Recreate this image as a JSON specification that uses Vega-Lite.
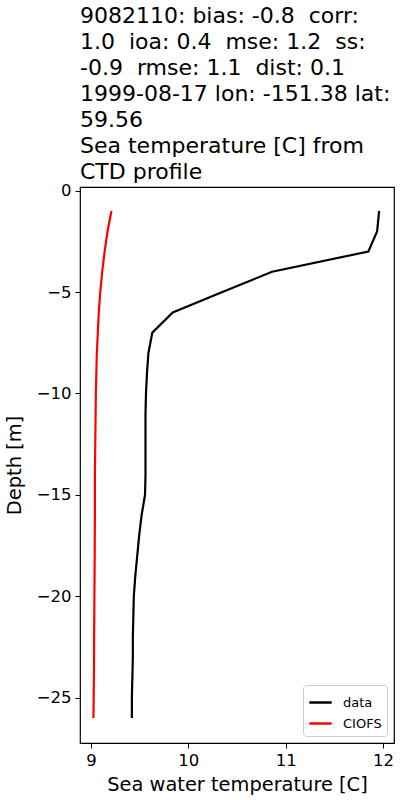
{
  "$schema": "https://vega.github.io/schema/vega-lite/v6.json",
  "width": 314,
  "height": 556,
  "autosize": {"type": "none"},
  "padding": {"left": 80, "top": 187, "right": 6, "bottom": 57},
  "background": "white",
  "config": {
    "font": "DejaVu Sans",
    "view": {"stroke": "black", "strokeWidth": 1.2},
    "axis": {
      "grid": false,
      "domain": false,
      "tickColor": "black",
      "tickSize": 5,
      "tickWidth": 1,
      "labelColor": "black",
      "labelFontSize": 16.5,
      "labelFont": "DejaVu Sans",
      "titleFont": "DejaVu Sans",
      "titleFontSize": 19.4,
      "titleFontWeight": "normal",
      "titleColor": "black",
      "labelPadding": 4
    }
  },
  "title": {
    "text": [
      "9082110: bias: -0.8 \u00a0corr:",
      "1.0 \u00a0ioa: 0.4 \u00a0mse: 1.2 \u00a0ss:",
      "-0.9 \u00a0rmse: 1.1 \u00a0dist: 0.1",
      "1999-08-17 lon: -151.38 lat:",
      "59.56",
      "Sea temperature [C] from",
      "CTD profile"
    ],
    "anchor": "start",
    "frame": "group",
    "fontSize": 22,
    "lineHeight": 26,
    "font": "DejaVu Sans",
    "fontWeight": "normal",
    "color": "black",
    "offset": -1
  },
  "data": {
    "values": [
      {"series": "data", "depth": -1, "temp": 11.96},
      {"series": "data", "depth": -2, "temp": 11.94},
      {"series": "data", "depth": -3, "temp": 11.85},
      {"series": "data", "depth": -4, "temp": 10.86},
      {"series": "data", "depth": -5, "temp": 10.35},
      {"series": "data", "depth": -6, "temp": 9.84},
      {"series": "data", "depth": -7, "temp": 9.63},
      {"series": "data", "depth": -8, "temp": 9.59},
      {"series": "data", "depth": -9, "temp": 9.575},
      {"series": "data", "depth": -10, "temp": 9.565},
      {"series": "data", "depth": -11, "temp": 9.56},
      {"series": "data", "depth": -12, "temp": 9.56},
      {"series": "data", "depth": -13, "temp": 9.56},
      {"series": "data", "depth": -14, "temp": 9.56},
      {"series": "data", "depth": -15, "temp": 9.555},
      {"series": "data", "depth": -16, "temp": 9.52},
      {"series": "data", "depth": -17, "temp": 9.495},
      {"series": "data", "depth": -18, "temp": 9.475},
      {"series": "data", "depth": -19, "temp": 9.455},
      {"series": "data", "depth": -20, "temp": 9.44},
      {"series": "data", "depth": -21, "temp": 9.435},
      {"series": "data", "depth": -22, "temp": 9.43},
      {"series": "data", "depth": -23, "temp": 9.43},
      {"series": "data", "depth": -24, "temp": 9.425},
      {"series": "data", "depth": -25, "temp": 9.42},
      {"series": "data", "depth": -26, "temp": 9.42},
      {"series": "CIOFS", "depth": -1, "temp": 9.21},
      {"series": "CIOFS", "depth": -2, "temp": 9.17},
      {"series": "CIOFS", "depth": -3, "temp": 9.14},
      {"series": "CIOFS", "depth": -4, "temp": 9.115},
      {"series": "CIOFS", "depth": -5, "temp": 9.095},
      {"series": "CIOFS", "depth": -6, "temp": 9.08},
      {"series": "CIOFS", "depth": -7, "temp": 9.07},
      {"series": "CIOFS", "depth": -8, "temp": 9.06},
      {"series": "CIOFS", "depth": -9, "temp": 9.055},
      {"series": "CIOFS", "depth": -10, "temp": 9.05},
      {"series": "CIOFS", "depth": -12, "temp": 9.045},
      {"series": "CIOFS", "depth": -14, "temp": 9.04},
      {"series": "CIOFS", "depth": -16, "temp": 9.04},
      {"series": "CIOFS", "depth": -18, "temp": 9.038},
      {"series": "CIOFS", "depth": -20, "temp": 9.035},
      {"series": "CIOFS", "depth": -22, "temp": 9.032},
      {"series": "CIOFS", "depth": -24, "temp": 9.03},
      {"series": "CIOFS", "depth": -26, "temp": 9.025}
    ]
  },
  "mark": {"type": "line", "strokeWidth": 2.2, "clip": true},
  "encoding": {
    "x": {
      "field": "temp",
      "type": "quantitative",
      "scale": {"domain": [8.887, 12.113], "nice": false, "zero": false},
      "axis": {"values": [9, 10, 11, 12], "format": "d", "title": "Sea water temperature [C]", "titlePadding": 7}
    },
    "y": {
      "field": "depth",
      "type": "quantitative",
      "scale": {"domain": [-27.23, 0.18], "nice": false, "zero": false},
      "axis": {"values": [0, -5, -10, -15, -20, -25], "format": "d", "title": "Depth [m]", "titlePadding": 12}
    },
    "order": {"field": "depth", "sort": "descending"},
    "color": {
      "field": "series",
      "type": "nominal",
      "scale": {"domain": ["data", "CIOFS"], "range": ["black", "red"]},
      "legend": {
        "title": null,
        "orient": "bottom-right",
        "offset": 7,
        "fillColor": "white",
        "strokeColor": "#cccccc",
        "cornerRadius": 3,
        "padding": 5,
        "symbolType": "stroke",
        "symbolSize": 500,
        "symbolStrokeWidth": 2.5,
        "labelFontSize": 13,
        "labelFont": "DejaVu Sans",
        "labelColor": "black",
        "rowPadding": 1,
        "labelOffset": 10
      }
    }
  }
}
